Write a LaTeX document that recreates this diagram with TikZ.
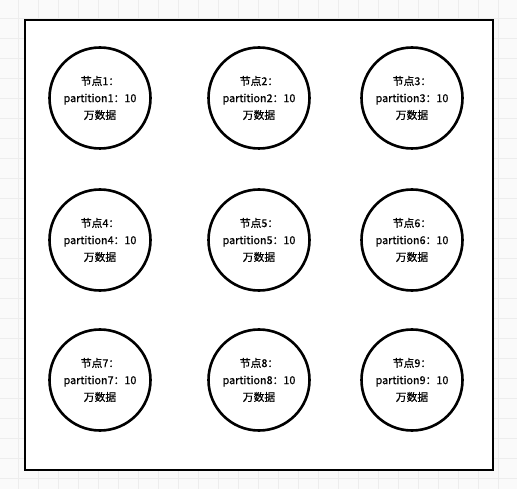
\documentclass[tikz,border=0pt]{standalone}
\usepackage{fontspec}
\newfontfamily\cjk[FakeBold=0.6]{Noto Sans CJK SC}
\usetikzlibrary{positioning}

\begin{document}
\begin{tikzpicture}[
    x=1pt, y=-1pt,
    gridline/.style={draw=black!7, line width=0.8pt},
    frame/.style={draw, line width=2pt, fill=white},
    part/.style={draw, circle, line width=2.6pt, minimum size=101pt,
                 inner sep=0pt, align=center, fill=white,
                 font=\cjk\fontsize{10.8}{17}\selectfont},
    ]
\useasboundingbox (0,0) rectangle (517,489);

% ---- background grid ----
\fill[black!2] (0,0) rectangle (517,489);
\foreach \k in {0,...,24} {
  \draw[gridline] (18+20*\k,0) -- (18+20*\k,489);
  \draw[gridline] (0,18+20*\k) -- (517,18+20*\k);
}

% ---- cluster frame ----
\draw[frame] (25,20) rectangle (493,470);

% ---- partitions ----
\node[part] (n1) at (100,98) {节点1：\\partition1：10\\万数据};
\node[part] (n2) at (259,98) {节点2：\\partition2：10\\万数据};
\node[part] (n3) at (412,98) {节点3：\\partition3：10\\万数据};
\node[part] (n4) at (100,240) {节点4：\\partition4：10\\万数据};
\node[part] (n5) at (259,240) {节点5：\\partition5：10\\万数据};
\node[part] (n6) at (412,240) {节点6：\\partition6：10\\万数据};
\node[part] (n7) at (100,380) {节点7：\\partition7：10\\万数据};
\node[part] (n8) at (259,380) {节点8：\\partition8：10\\万数据};
\node[part] (n9) at (412,380) {节点9：\\partition9：10\\万数据};
\end{tikzpicture}
\end{document}
